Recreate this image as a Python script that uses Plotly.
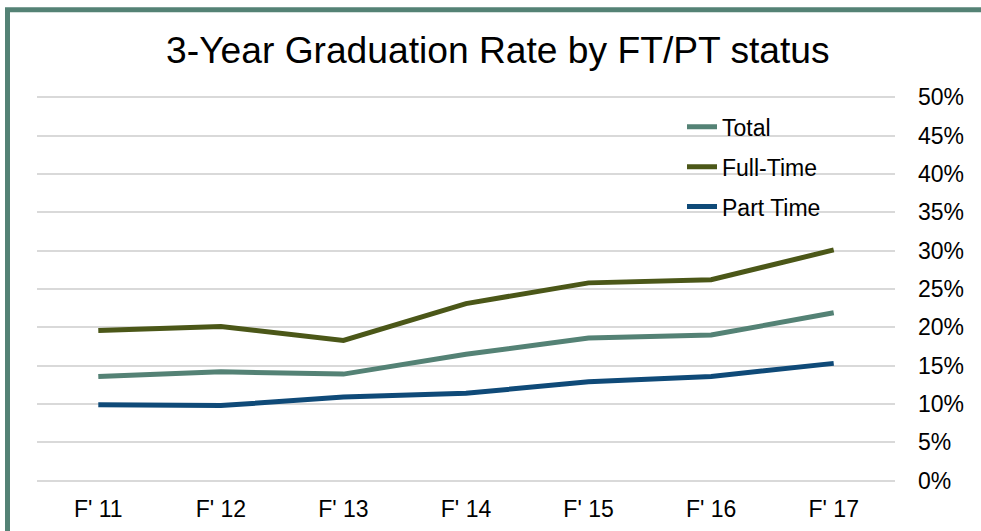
import plotly.graph_objects as go

categories = ["F' 11", "F' 12", "F' 13", "F' 14", "F' 15", "F' 16", "F' 17"]
total = [0.136, 0.142, 0.139, 0.165, 0.186, 0.190, 0.219]
full_time = [0.196, 0.201, 0.183, 0.231, 0.258, 0.262, 0.301]
part_time = [0.099, 0.098, 0.109, 0.114, 0.129, 0.136, 0.153]
y_ticks = [0, 0.05, 0.10, 0.15, 0.20, 0.25, 0.30, 0.35, 0.40, 0.45, 0.50]
y_tick_text = ["0%", "5%", "10%", "15%", "20%", "25%", "30%", "35%", "40%", "45%", "50%"]

FONT = "Arial, Liberation Sans, sans-serif"
W, H = 981, 531
PX_PER_UNIT = 768.0
PAD = 0.003
ML, MR = 37, 86
MT = 97 - PAD * PX_PER_UNIT
MB = H - (481 + PAD * PX_PER_UNIT)
PW = W - ML - MR
PH = H - MT - MB
Y0, Y1 = -PAD, 0.5 + PAD

def px_x(px):
    return (px - ML) / PW

def px_y(py):
    return (H - MB - py) / PH

fig = go.Figure()
series = [("Total", total, "#548275"), ("Full-Time", full_time, "#4b5718"), ("Part Time", part_time, "#0f4a78")]
for i, (name, vals, col) in enumerate(series):
    fig.add_trace(go.Scatter(x=categories, y=vals, name=name, mode="lines",
                             line=dict(color=col, width=5), legendgroup=f"g{i}"))

fig.update_layout(
    width=W, height=H,
    margin=dict(l=ML, r=MR, t=MT, b=MB, autoexpand=False),
    paper_bgcolor="white", plot_bgcolor="white",
    font=dict(family=FONT, color="black", size=23),
    title=dict(text="3-Year Graduation Rate by FT/PT status", font=dict(size=37.2, family=FONT, color="black"),
               x=0.5075, xref="container", xanchor="center", y=1 - 50 / H, yref="container", yanchor="middle"),
    xaxis=dict(type="category", range=[-0.5, 6.5], showgrid=False, zeroline=False, showline=False,
               ticks="", tickfont=dict(size=23), ticklabelstandoff=10, automargin=False),
    yaxis=dict(range=[Y0, Y1], side="right", tickvals=y_ticks, ticktext=y_tick_text, showgrid=True,
               gridcolor="#d9d9d9", gridwidth=2, zeroline=False, showline=False, ticks="",
               tickfont=dict(size=23), ticklabelstandoff=22, automargin=False),
    legend=dict(x=px_x(682), y=px_y(105), xanchor="left", yanchor="top", bgcolor="rgba(0,0,0,0)",
                font=dict(size=23), traceorder="grouped", tracegroupgap=7, itemwidth=30),
    showlegend=True,
    shapes=[dict(type="rect", xref="paper", yref="paper",
                 x0=px_x(7.5), x1=px_x(1000), y0=px_y(560), y1=px_y(9.3),
                 line=dict(color="#548275", width=5), fillcolor="rgba(0,0,0,0)", layer="above")],
)

fig.write_html("out.html", config={"displayModeBar": False},
               post_script="document.body.style.margin='0';")
